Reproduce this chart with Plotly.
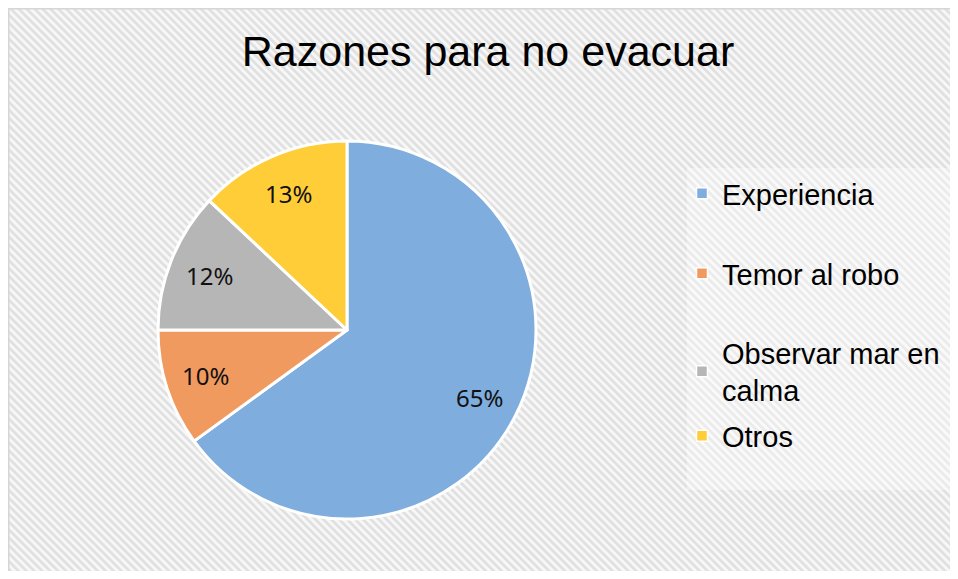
import base64
import math
import plotly.graph_objects as go

# ---- data ----
title_text = "Razones para no evacuar"
labels = ["Experiencia", "Temor al robo", "Observar mar en calma", "Otros"]
legend_labels = ["Experiencia", "Temor al robo", "Observar mar en<br>calma", "Otros"]
values = [65, 10, 12, 13]
colors = ["#7FADDD", "#F19A60", "#B6B6B6", "#FFCD38"]

# figure size (the page body adds an 8px margin on every side)
OFF = 8
W, H = 942, 563


def fx(sx):
    return (sx - OFF) / W


def fy(sy):
    return 1 - (sy - OFF) / H


# pie geometry in screen pixels
CX, CY, R = 347, 330, 189

# hatched background (diagonal stripes) as an inline SVG image
svg = f'''<svg xmlns="http://www.w3.org/2000/svg" width="{W}" height="{H}">
<defs><pattern id="p" width="5.6" height="5.6" patternUnits="userSpaceOnUse" patternTransform="rotate(-45)">
<rect width="5.6" height="5.6" fill="#f7f7f7"/><rect width="2.7" height="5.6" fill="#e0e0e0"/></pattern></defs>
<rect width="{W}" height="{H}" fill="url(#p)"/>
<line x1="0.5" y1="0" x2="0.5" y2="{H}" stroke="#d6d6d6" stroke-width="2"/>
<line x1="0" y1="0.5" x2="{W}" y2="0.5" stroke="#d6d6d6" stroke-width="2"/>
<rect x="679" y="160" width="280" height="322" fill="#ffffff" fill-opacity="0.35"/>
</svg>'''
uri = "data:image/svg+xml;base64," + base64.b64encode(svg.encode()).decode()

fig = go.Figure()
fig.add_trace(go.Pie(
    labels=labels, values=values, sort=False, direction="clockwise", rotation=0,
    marker=dict(colors=colors, line=dict(color="white", width=3)),
    textinfo="none",
    domain=dict(x=[fx(CX - R), fx(CX + R)], y=[fy(CY + R), fy(CY - R)]),
    showlegend=False, hoverinfo="label+percent",
))

# percentage labels placed along each slice's mid-angle (like Excel's best fit)
total = sum(values)
annotations = []
cum = 0
for v in values:
    mid = (cum + v / 2) / total * 2 * math.pi
    cum += v
    lx = CX + 0.785 * R * math.sin(mid)
    ly = CY - 0.785 * R * math.cos(mid)
    annotations.append(dict(
        text=f"{round(100 * v / total)}%", x=fx(lx), y=fy(ly),
        xref="paper", yref="paper", showarrow=False,
        xanchor="center", yanchor="middle",
        font=dict(family="Noto Sans", size=24, color="#111111"),
    ))

legend_names = ["legend", "legend2", "legend3", "legend4"]
legend_y = [193.5, 273.5, 371.5, 436]
for lab, col, lg in zip(legend_labels, colors, legend_names):
    fig.add_trace(go.Scatter(
        x=[None], y=[None], mode="markers", name=lab, legend=lg,
        marker=dict(symbol="square", size=11, color=col, line=dict(color="white", width=1.5)),
    ))

legend_common = dict(
    x=fx(682), xanchor="left", yanchor="middle",
    bgcolor="rgba(0,0,0,0)", borderwidth=0,
    font=dict(family="Liberation Sans", size=29, color="#000000"),
    itemclick=False, itemdoubleclick=False,
)
lay_legends = {lg: dict(legend_common, y=fy(yy)) for lg, yy in zip(legend_names, legend_y)}

fig.update_layout(
    width=W, height=H,
    margin=dict(l=0, r=0, t=0, b=0),
    paper_bgcolor="white", plot_bgcolor="rgba(0,0,0,0)",
    title=dict(text=title_text, x=fx(488), xanchor="center", y=fy(51), yanchor="middle",
               font=dict(family="Liberation Sans", size=43, color="#000000")),
    xaxis=dict(visible=False), yaxis=dict(visible=False),
    images=[dict(source=uri, xref="paper", yref="paper", x=0, y=1, sizex=1, sizey=1,
                 xanchor="left", yanchor="top", sizing="stretch", layer="below")],
    annotations=annotations,
    showlegend=True,
    **lay_legends,
)

fig.write_html("out.html")
